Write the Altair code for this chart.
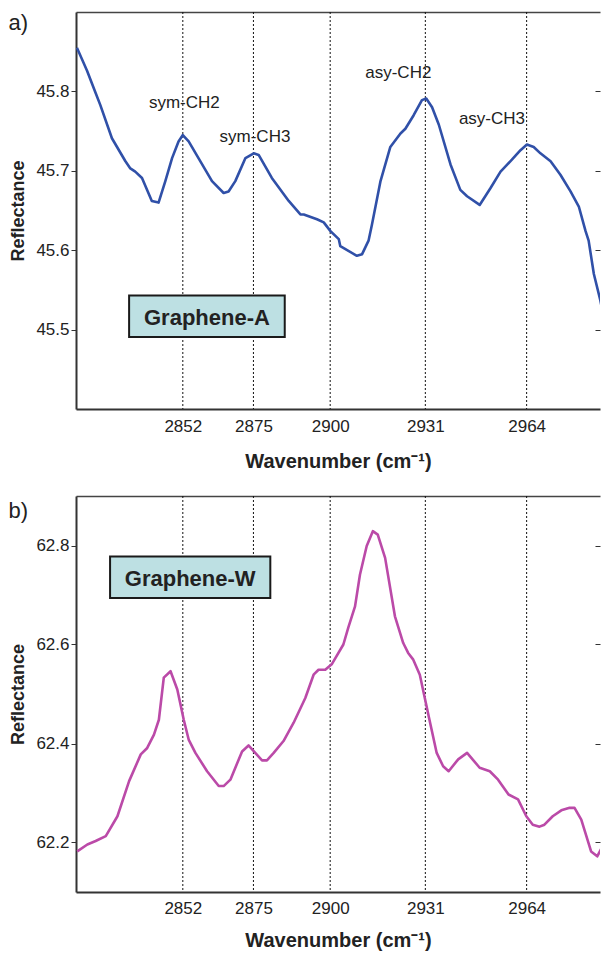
import altair as alt
import pandas as pd

FONT = "Liberation Sans"
TXT = "#222222"

# shared x axis
x_ticks = [2852, 2875, 2900, 2931, 2964]
x_domain = [2817.2, 2987.9]

# panel a) Graphene-A spectrum
wn_a = [2817.5, 2820.8, 2823.5, 2825.1, 2828.9, 2833.3, 2834.9, 2836.5, 2838.7, 2841.9,
        2844.1, 2846.3, 2848.5, 2850.6, 2852.0, 2853.9, 2857.1, 2861.5, 2865.3, 2866.9,
        2869.1, 2872.4, 2875.1, 2876.7, 2881.0, 2886.5, 2890.3, 2891.4, 2895.7, 2897.9,
        2900.1, 2902.8, 2903.3, 2908.7, 2910.4, 2912.5, 2913.6, 2916.4, 2919.6, 2922.9,
        2924.5, 2927.2, 2929.9, 2931.3, 2933.2, 2935.4, 2939.2, 2942.4, 2944.6, 2948.7,
        2952.2, 2955.5, 2959.2, 2962.0, 2964.1, 2966.3, 2968.5, 2971.8, 2975.0, 2978.3,
        2981.0, 2983.2, 2984.2, 2985.9, 2988.0, 2989.1, 2990.8]
refl_a = [45.855, 45.826, 45.799, 45.783, 45.741, 45.712, 45.703, 45.699, 45.691, 45.662,
          45.660, 45.687, 45.716, 45.737, 45.745, 45.737, 45.716, 45.687, 45.672, 45.674,
          45.687, 45.716, 45.722, 45.720, 45.691, 45.662, 45.645, 45.645, 45.639, 45.635,
          45.624, 45.614, 45.605, 45.593, 45.595, 45.612, 45.632, 45.687, 45.730, 45.747,
          45.753, 45.770, 45.789, 45.791, 45.780, 45.758, 45.708, 45.676, 45.668, 45.657,
          45.678, 45.699, 45.714, 45.726, 45.733, 45.730, 45.722, 45.712, 45.695, 45.674,
          45.655, 45.624, 45.612, 45.570, 45.537, 45.516, 45.503]
y_ticks_a = [45.5, 45.6, 45.7, 45.8]
y_domain_a = [45.4, 45.9]

# panel b) Graphene-W spectrum
wn_b = [2817.6, 2820.9, 2823.6, 2826.9, 2830.7, 2834.5, 2838.3, 2840.4, 2842.6, 2844.2,
        2845.8, 2848.0, 2850.2, 2852.3, 2853.9, 2856.1, 2859.9, 2863.7, 2865.3, 2867.5,
        2871.3, 2873.4, 2875.6, 2877.8, 2879.4, 2881.6, 2884.8, 2888.1, 2891.9, 2894.6,
        2896.2, 2898.4, 2900.5, 2904.3, 2905.9, 2908.1, 2909.7, 2911.9, 2913.9, 2915.5,
        2917.9, 2921.1, 2923.8, 2925.4, 2927.0, 2929.2, 2932.2, 2934.7, 2936.8, 2938.6,
        2941.7, 2944.6, 2948.7, 2952.0, 2954.7, 2958.1, 2961.2, 2963.9, 2966.0, 2968.2,
        2969.8, 2972.5, 2975.3, 2978.0, 2979.6, 2981.8, 2985.0, 2987.0, 2989.3, 2990.9]
refl_b = [62.182, 62.196, 62.203, 62.213, 62.253, 62.324, 62.378, 62.391, 62.418, 62.448,
          62.533, 62.546, 62.509, 62.448, 62.408, 62.381, 62.344, 62.314, 62.314, 62.327,
          62.384, 62.396, 62.381, 62.366, 62.366, 62.381, 62.405, 62.442, 62.492, 62.539,
          62.549, 62.549, 62.560, 62.600, 62.634, 62.677, 62.741, 62.799, 62.829, 62.822,
          62.775, 62.657, 62.603, 62.583, 62.570, 62.539, 62.452, 62.381, 62.354, 62.344,
          62.368, 62.381, 62.351, 62.344, 62.327, 62.297, 62.287, 62.253, 62.236, 62.232,
          62.236, 62.253, 62.265, 62.270, 62.270, 62.246, 62.182, 62.172, 62.199, 62.226]
y_ticks_b = [62.2, 62.4, 62.6, 62.8]
y_domain_b = [62.1, 62.9]

# peak annotations (panel a)
peak_labels = ["sym-CH2", "sym-CH3", "asy-CH2", "asy-CH3"]
peak_x = [2852.5, 2875.5, 2922.2, 2952.7]
peak_y = [45.779, 45.7366, 45.8166, 45.7595]

# sample boxes
box_names = ["Graphene-A", "Graphene-W"]
box_x1 = [2834.5, 2828.3]
box_x2 = [2885.2, 2880.5]
box_y1 = [45.4908, 62.694]
box_y2 = [45.5429, 62.778]
box_text_y = [45.5054, 62.719]

panel_tags = ["a)", "b)"]
tag_offsets = [1, 4.5]

W = 524
heights = [397, 396]
label_pads = [9, 8]
title_pads = [17, 14]


def panel(i, wn, refl, color, y_domain, y_ticks, with_peaks):
    H = heights[i]
    xs = alt.Scale(domain=x_domain, nice=False, zero=False)
    ys = alt.Scale(domain=y_domain, nice=False, zero=False)

    rules = alt.Chart(pd.DataFrame({"t": x_ticks})).mark_rule(
        color="#111111", strokeDash=[2, 2], strokeWidth=1
    ).encode(
        x=alt.X("t:Q", scale=xs, axis=alt.Axis(
            orient="top", labels=False, ticks=False, tickSize=0, labelPadding=0,
            minExtent=0, title=None, grid=False,
            domainColor="#444444", domainWidth=1.5))
    )

    line = alt.Chart(pd.DataFrame({"w": wn, "r": refl})).mark_line(
        color=color, strokeWidth=2.6, strokeJoin="round", clip=True
    ).encode(
        x=alt.X("w:Q", scale=xs, axis=alt.Axis(
            values=x_ticks, format="d", title="Wavenumber (cm⁻¹)",
            ticks=False, tickSize=0, labelPadding=label_pads[i], titlePadding=title_pads[i],
            titleFontSize=20, titleFontWeight="bold", grid=False,
            domainColor="#333333", domainWidth=2)),
        y=alt.Y("r:Q", scale=ys, axis=alt.Axis(
            values=y_ticks, format=".1f", title="Reflectance",
            tickSize=5, tickColor="#333333", labelPadding=2, grid=False,
            titleFontSize=18, titleFontWeight="bold", titleAngle=270,
            titleX=-53, titleY=H / 2, titleBaseline="alphabetic", titleAlign="center",
            domainColor="#333333", domainWidth=2)),
    )

    box_df = pd.DataFrame({
        "name": [box_names[i]], "x1": [box_x1[i]], "x2": [box_x2[i]],
        "y1": [box_y1[i]], "y2": [box_y2[i]],
        "tx": [(box_x1[i] + box_x2[i]) / 2], "ty": [box_text_y[i]],
    })
    rect = alt.Chart(box_df).mark_rect(
        fill="#bde0e3", stroke="#1a1a1a", strokeWidth=2
    ).encode(
        x=alt.X("x1:Q", scale=xs, axis=None), x2="x2:Q",
        y=alt.Y("y1:Q", scale=ys, axis=None), y2="y2:Q",
    )
    boxtext = alt.Chart(box_df).mark_text(
        font=FONT, fontSize=22, fontWeight="bold", color=TXT,
        baseline="alphabetic", align="center"
    ).encode(
        x=alt.X("tx:Q", scale=xs, axis=None),
        y=alt.Y("ty:Q", scale=ys, axis=alt.Axis(
            orient="right", values=y_ticks, labels=False, domain=False,
            tickSize=5, offset=-5, tickColor="#333333", title=None, grid=False)),
        text="name:N",
    )

    tag = alt.Chart(pd.DataFrame({"tag": [panel_tags[i]]})).mark_text(
        font=FONT, fontSize=22, align="left", baseline="top", color=TXT
    ).encode(x=alt.value(-67.5), y=alt.value(tag_offsets[i]), text="tag:N")

    layers = [rules, line, rect, boxtext]
    if with_peaks:
        peaks = alt.Chart(pd.DataFrame({"label": peak_labels, "px": peak_x, "py": peak_y})).mark_text(
            font=FONT, fontSize=17, baseline="alphabetic", align="center", color=TXT
        ).encode(
            x=alt.X("px:Q", scale=xs, axis=None),
            y=alt.Y("py:Q", scale=ys, axis=None),
            text="label:N",
        )
        layers.append(peaks)
    layers.append(tag)

    return alt.layer(*layers).resolve_axis(x="independent", y="independent").properties(
        width=W, height=H)


pa = panel(0, wn_a, refl_a, "#3050a8", y_domain_a, y_ticks_a, True)
pb = panel(1, wn_b, refl_b, "#bb4aa8", y_domain_b, y_ticks_b, False)

chart = alt.vconcat(pa, pb, spacing=23).properties(
    padding={"left": 0, "top": 3, "right": 0, "bottom": 0}
).configure(font=FONT).configure_view(stroke="transparent").configure_axis(
    labelFont=FONT, labelFontSize=17, labelColor=TXT,
    titleFont=FONT, titleColor=TXT,
)

chart.save("out.html", embed_options={"renderer": "svg", "actions": False})
